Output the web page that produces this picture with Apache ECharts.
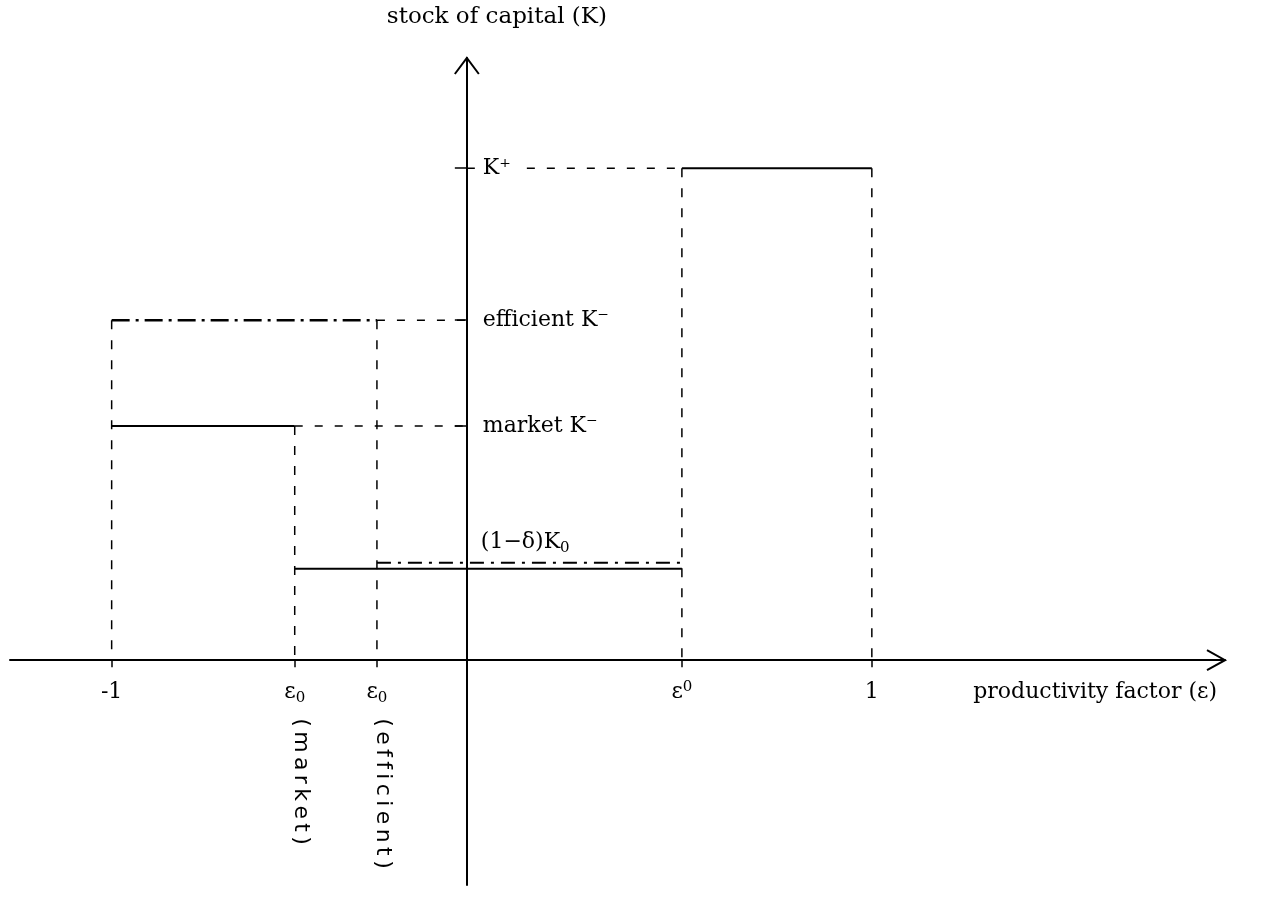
<!DOCTYPE html>
<html><head><meta charset="utf-8">
<script src="https://cdn.jsdelivr.net/npm/echarts@6/dist/echarts.min.js"></script>
<style>html,body{margin:0;padding:0;background:#fff}#c{width:1261px;height:898px}</style>
</head><body><div id="c"></div>
<script>
// ---- data (schematic units: 0 at the axes, ε=1 and K⁺=1) ----
const tickValues = [-0.877, -0.425, -0.222, 0.531, 1.0];      // -1, ε0 (market), ε0 (efficient), ε⁰, 1
const tickLabels = ['-1', 'ε₀', 'ε₀', 'ε⁰', '1'];
const tickNotes  = ['', '(market)', '(efficient)', '', ''];
const levelValues = [1.0, 0.691, 0.476];                       // K⁺, efficient K⁻, market K⁻
const levelLabels = ['K⁺', 'efficient K⁻', 'market K⁻'];
const floorValues = [0.186, 0.198];                            // (1−δ)K0 : market (solid), efficient (dash-dot)
const floorLabel = '(1−δ)K₀';
const axisNames = ['productivity factor (ε)', 'stock of capital (K)'];
const xRange = [-1.128, 1.872];
const yRange = [-0.457, 1.224];

const [xm1, xe0m, xe0e, xe0u, x1] = tickValues;
const [kPlus, kEff, kMkt] = levelValues;
const [dMkt, dEff] = floorValues;

const FONT = 'DejaVu Serif';
// turn sub/superscript zeros into rich-text fragments
const toRich = s => s.replace(/([^₀⁰]+)/g, '{m|$1}').replace(/₀/g, '{sub|0}').replace(/⁰/g, '{sup|0}');
const RICH = {
  m:   { fontFamily: FONT, fontSize: 22, color: '#000', lineHeight: 26, verticalAlign: 'middle' },
  sub: { fontFamily: FONT, fontSize: 15, color: '#000', lineHeight: 15, verticalAlign: 'bottom' },
  sup: { fontFamily: FONT, fontSize: 15, color: '#000', lineHeight: 15, verticalAlign: 'top' }
};

function seg(data, type, width) {
  return { type: 'line', data, symbol: 'none', showSymbol: false, silent: true, animation: false,
           lineStyle: { color: '#000', width, type }, z: 2 };
}
const DASH_H = [8, 12], DASH_V = [9, 11];

const series = [
  // solid (market) lines
  seg([[xm1, kMkt], [xe0m, kMkt]], 'solid', 2),
  seg([[xe0u, kPlus], [x1, kPlus]], 'solid', 2),
  seg([[xe0m, dMkt], [xe0u, dMkt]], 'solid', 2),
  // dash-dot (efficient) lines
  seg([[xm1, kEff], [xe0e, kEff]], [18, 6, 3, 6], 2.5),
  seg([[xe0e, dEff], [xe0u, dEff]], [14, 7, 3, 7], 2),
  // dashed guides to the K axis
  seg([[xe0e, kEff], [0, kEff]], DASH_H, 1.5),
  seg([[xe0m, kMkt], [0, kMkt]], DASH_H, 1.5),
  seg([[0, kPlus], [xe0u, kPlus]], DASH_H, 1.5),
  // dashed verticals down to the ε axis
  seg([[xm1, kEff], [xm1, 0]], DASH_V, 1.5),
  seg([[xe0m, kMkt], [xe0m, 0]], DASH_V, 1.5),
  seg([[xe0e, kEff], [xe0e, 0]], DASH_V, 1.5),
  seg([[xe0u, kPlus], [xe0u, 0]], DASH_V, 1.5),
  seg([[x1, kPlus], [x1, 0]], DASH_V, 1.5)
];

const chart = echarts.init(document.getElementById('c'), null, { renderer: 'canvas' });
chart.setOption({
  animation: false,
  backgroundColor: '#fff',
  grid: { left: 10, right: 36, top: 58, bottom: 13, containLabel: false, outerBoundsMode: 'none' },
  xAxis: {
    type: 'value', min: xRange[0], max: xRange[1], splitLine: { show: false }, position: 'bottom',
    axisLine: { onZero: false, lineStyle: { color: '#000', width: 2 } },
    axisTick: { show: true, customValues: tickValues, length: 7, lineStyle: { color: '#000', width: 1.5 } },
    axisLabel: { customValues: tickValues, formatter: v => toRich(tickLabels[tickValues.indexOf(v)]),
                 margin: 19, color: '#000', fontFamily: FONT, fontSize: 22, rich: RICH }
  },
  yAxis: {
    type: 'value', min: yRange[0], max: yRange[1], z: 5, splitLine: { show: false }, position: 'left',
    axisLine: { onZero: false, lineStyle: { color: '#000', width: 2 } },
    axisTick: { show: true, customValues: levelValues, length: 12, lineStyle: { color: '#000', width: 1.5 } },
    axisLabel: { customValues: levelValues, inside: true, formatter: v => levelLabels[levelValues.indexOf(v)],
                 margin: 14, color: '#000', fontFamily: FONT, fontSize: 22,
                 backgroundColor: '#fff', padding: [2, 6, 2, 2] }
  },
  series
});

const P = p => chart.convertToPixel({ gridIndex: 0 }, p);
let O = P([0, 0]);
const gridLeft = P([xRange[0], 0])[0];
const gridBottom = P([0, yRange[0]])[1];
// move both axes (line, ticks, labels) so they cross at the origin
chart.setOption({
  xAxis: { offset: -(gridBottom - O[1]) },
  yAxis: { offset: -(O[0] - gridLeft) }
});

O = P([0, 0]);
const XE = P([xRange[1], 0]);
const YT = P([0, yRange[1]]);
const txt = { fill: '#000', fontFamily: FONT, fontSize: 22 };
const graphic = [
  { type: 'polyline', shape: { points: [[XE[0] - 18, XE[1] - 10], [XE[0], XE[1]], [XE[0] - 18, XE[1] + 10]] },
    style: { stroke: '#000', lineWidth: 2, fill: null } },
  { type: 'polyline', shape: { points: [[YT[0] - 12, YT[1] + 16], [YT[0], YT[1]], [YT[0] + 12, YT[1] + 16]] },
    style: { stroke: '#000', lineWidth: 2, fill: null } },
  { type: 'text', x: YT[0] - 80, y: YT[1] - 41,
    style: Object.assign({ text: axisNames[1], textAlign: 'left', textVerticalAlign: 'middle' }, txt, { fontSize: 23 }) },
  { type: 'text', x: XE[0] - 8, y: O[1] + 32,
    style: Object.assign({ text: axisNames[0], textAlign: 'right', textVerticalAlign: 'middle' }, txt) },
  { type: 'text', x: O[0] + 14, y: P([0, dEff])[1] - 20,
    style: Object.assign({ text: toRich(floorLabel), rich: RICH, textAlign: 'left', textVerticalAlign: 'middle' }, txt) }
];
tickNotes.forEach((n, i) => {
  if (!n) return;
  const p = P([tickValues[i], 0]);
  graphic.push({ type: 'text', x: p[0] + 6, y: O[1] + 58, rotation: -Math.PI / 2,
    style: { text: n.split('').join('\u2009'), fill: '#000', fontFamily: 'DejaVu Sans', fontSize: 22,
             textAlign: 'left', textVerticalAlign: 'middle' } });
});
chart.setOption({ graphic });
</script></body></html>
